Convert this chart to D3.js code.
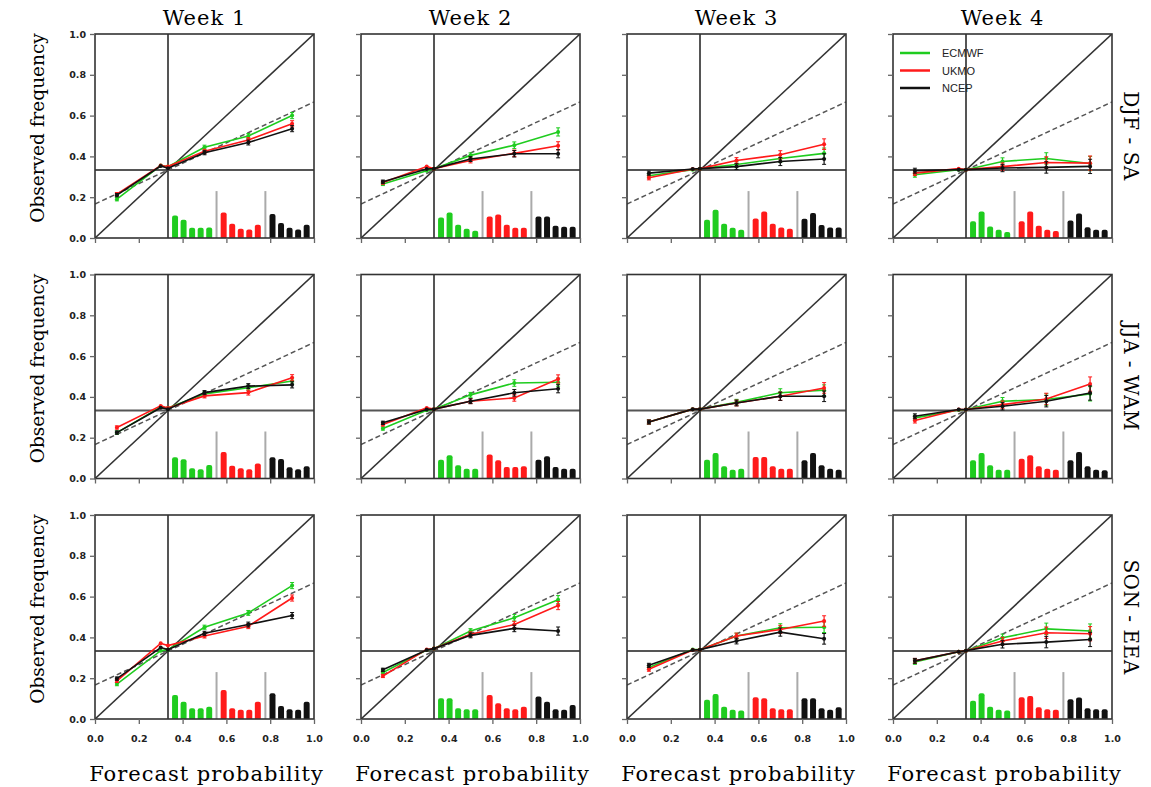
<!DOCTYPE html>
<html><head><meta charset="utf-8">
<script src="https://cdn.jsdelivr.net/npm/d3@7"></script>
<style>body{margin:0;background:#fff}</style>
</head><body>
<script>
// ---------- data ----------
const weeks = ["Week 1","Week 2","Week 3","Week 4"];
const regions = ["DJF - SA","JJA - WAM","SON - EEA"];
const models = ["ECMWF","UKMO","NCEP"];
const modelColors = ["#1fcc1f","#ff1a1a","#111111"];
const binCenters = [0.1, 0.3, 0.333, 0.5, 0.7, 0.9];
const xTicks = [0,0.2,0.4,0.6,0.8,1.0];
const yTicks = [0,0.2,0.4,0.6,0.8,1.0];
const clim = 1/3;
const histSeparators = [0.555, 0.778];
const histSepTop = 0.23;
const histGroupStarts = [0.333, 0.555, 0.778];

// reliability curves [week][bin]
const relDJF_ECMWF = [[0.19,0.355,0.35,0.445,0.50,0.60],[0.265,0.33,0.34,0.405,0.455,0.52],[0.305,0.335,0.34,0.36,0.39,0.415],[0.31,0.335,0.335,0.375,0.39,0.365]];
const relDJF_UKMO  = [[0.215,0.355,0.35,0.425,0.48,0.56],[0.272,0.35,0.34,0.38,0.415,0.452],[0.295,0.338,0.34,0.38,0.408,0.46],[0.318,0.34,0.335,0.35,0.37,0.367]];
const relDJF_NCEP  = [[0.21,0.353,0.342,0.418,0.468,0.536],[0.276,0.338,0.34,0.387,0.413,0.413],[0.318,0.338,0.34,0.35,0.375,0.387],[0.33,0.335,0.335,0.343,0.346,0.351]];
const relJJA_ECMWF = [[0.225,0.35,0.345,0.415,0.445,0.478],[0.245,0.335,0.34,0.41,0.468,0.472],[0.277,0.34,0.34,0.374,0.42,0.433],[0.297,0.336,0.338,0.379,0.387,0.415]];
const relJJA_UKMO  = [[0.25,0.356,0.345,0.405,0.421,0.494],[0.265,0.346,0.34,0.379,0.395,0.488],[0.277,0.34,0.34,0.37,0.403,0.444],[0.284,0.338,0.338,0.362,0.39,0.463]];
const relJJA_NCEP  = [[0.225,0.347,0.34,0.421,0.453,0.459],[0.273,0.338,0.34,0.379,0.42,0.44],[0.277,0.34,0.34,0.37,0.403,0.403],[0.305,0.338,0.338,0.354,0.379,0.419]];
const relSON_ECMWF = [[0.171,0.335,0.34,0.45,0.52,0.654],[0.228,0.338,0.345,0.431,0.496,0.585],[0.252,0.341,0.34,0.407,0.447,0.45],[0.28,0.33,0.335,0.398,0.442,0.431]];
const relSON_UKMO  = [[0.187,0.371,0.36,0.407,0.455,0.593],[0.211,0.341,0.345,0.415,0.463,0.556],[0.244,0.338,0.34,0.407,0.439,0.48],[0.285,0.33,0.335,0.382,0.423,0.418]];
const relSON_NCEP  = [[0.198,0.35,0.34,0.42,0.463,0.507],[0.241,0.338,0.345,0.41,0.444,0.431],[0.263,0.338,0.34,0.382,0.426,0.393],[0.285,0.33,0.335,0.366,0.377,0.39]];

// error-bar half widths [week][bin]
const errHalf = [[0.008,0,0,0.01,0.012,0.015],[0.008,0,0,0.012,0.016,0.02],[0.01,0,0,0.014,0.02,0.026],[0.012,0,0,0.018,0.028,0.035]];

// sharpness histograms [week][5 bins]
const histDJF_ECMWF = [[0.11,0.09,0.05,0.05,0.052],[0.1,0.125,0.065,0.045,0.035],[0.09,0.138,0.07,0.05,0.04],[0.082,0.13,0.056,0.04,0.03]];
const histDJF_UKMO  = [[0.125,0.07,0.045,0.042,0.065],[0.105,0.115,0.065,0.05,0.05],[0.095,0.13,0.07,0.052,0.045],[0.082,0.13,0.06,0.04,0.034]];
const histDJF_NCEP  = [[0.118,0.073,0.05,0.042,0.065],[0.105,0.105,0.06,0.055,0.055],[0.094,0.122,0.064,0.052,0.052],[0.086,0.12,0.053,0.04,0.04]];
const histJJA_ECMWF = [[0.104,0.094,0.05,0.045,0.066],[0.092,0.114,0.065,0.048,0.048],[0.092,0.125,0.06,0.043,0.048],[0.089,0.125,0.065,0.043,0.043]];
const histJJA_UKMO  = [[0.13,0.062,0.05,0.045,0.074],[0.118,0.089,0.056,0.056,0.06],[0.105,0.105,0.06,0.048,0.048],[0.097,0.114,0.06,0.048,0.043]];
const histJJA_NCEP  = [[0.104,0.096,0.055,0.045,0.06],[0.092,0.109,0.056,0.048,0.048],[0.089,0.125,0.065,0.048,0.043],[0.089,0.13,0.06,0.043,0.04]];
const histSON_ECMWF = [[0.118,0.085,0.053,0.053,0.06],[0.102,0.102,0.053,0.048,0.048],[0.094,0.123,0.06,0.045,0.042],[0.09,0.126,0.06,0.045,0.042]];
const histSON_UKMO  = [[0.142,0.053,0.045,0.045,0.085],[0.118,0.077,0.053,0.048,0.06],[0.107,0.102,0.053,0.048,0.048],[0.107,0.113,0.058,0.048,0.045]];
const histSON_NCEP  = [[0.126,0.064,0.048,0.045,0.085],[0.11,0.085,0.048,0.045,0.069],[0.102,0.102,0.053,0.045,0.058],[0.097,0.105,0.053,0.048,0.048]];

const relTable = [[relDJF_ECMWF,relDJF_UKMO,relDJF_NCEP],[relJJA_ECMWF,relJJA_UKMO,relJJA_NCEP],[relSON_ECMWF,relSON_UKMO,relSON_NCEP]];
const histTable = [[histDJF_ECMWF,histDJF_UKMO,histDJF_NCEP],[histJJA_ECMWF,histJJA_UKMO,histJJA_NCEP],[histSON_ECMWF,histSON_UKMO,histSON_NCEP]];

// ---------- layout ----------
const W = 1151, H = 787;
const panelX0 = 95, colStep = 266, panelW = 219;
const panelY0 = 34, rowStep = 240.5, panelH = 204;
const serif = "'DejaVu Serif', serif";

const svg = d3.select("body").append("svg").attr("width", W).attr("height", H)
  .style("font-family", serif);

const x = d3.scaleLinear().domain([0,1]).range([0, panelW]);
const y = d3.scaleLinear().domain([0,1]).range([panelH, 0]);
const binIdx = [0,1,2,3,4];

regions.forEach((reg, r) => {
  weeks.forEach((wk, c) => {
    const g = svg.append("g").attr("transform", `translate(${panelX0 + c*colStep},${panelY0 + r*rowStep})`);
    const clipId = `clip${r}${c}`;
    g.append("clipPath").attr("id", clipId).append("rect").attr("width", panelW).attr("height", panelH);
    const inner = g.append("g").attr("clip-path", `url(#${clipId})`);

    // histogram separators
    inner.selectAll("line.sep").data(histSeparators).join("line")
      .attr("x1", d => x(d)).attr("x2", d => x(d))
      .attr("y1", y(0)).attr("y2", y(histSepTop))
      .attr("stroke", "#aaaaaa").attr("stroke-width", 2);

    // histograms
    models.forEach((m, mi) => {
      const gs = histGroupStarts[mi];
      const band = d3.scaleBand().domain(binIdx).range([x(gs + 0.013), x(gs + 0.208)]).paddingInner(0.3).paddingOuter(0.15);
      inner.selectAll(`rect.h${mi}`).data(histTable[r][mi][c]).join("rect")
        .attr("x", (d,i) => band(i)).attr("width", band.bandwidth())
        .attr("y", d => y(d)).attr("height", d => y(0) - y(d) + 3)
        .attr("rx", 2)
        .attr("fill", modelColors[mi]);
    });

    // climatology lines
    inner.append("line").attr("x1", x(clim)).attr("x2", x(clim)).attr("y1", y(0)).attr("y2", y(1))
      .attr("stroke", "#555").attr("stroke-width", 2);
    inner.append("line").attr("x1", x(0)).attr("x2", x(1)).attr("y1", y(clim)).attr("y2", y(clim))
      .attr("stroke", "#555").attr("stroke-width", 2);
    // diagonal
    inner.append("line").attr("x1", x(0)).attr("x2", x(1)).attr("y1", y(0)).attr("y2", y(1))
      .attr("stroke", "#333").attr("stroke-width", 1.6);
    // no-skill line
    inner.append("line").attr("x1", x(0)).attr("x2", x(1)).attr("y1", y((0+clim)/2)).attr("y2", y((1+clim)/2))
      .attr("stroke", "#555").attr("stroke-width", 1.5).attr("stroke-dasharray", "5,3");

    // reliability curves
    const line = d3.line().x((d,i) => x(binCenters[i])).y(d => y(d));
    models.forEach((m, mi) => {
      const vals = relTable[r][mi][c];
      const col = modelColors[mi];
      inner.append("path").attr("d", line(vals)).attr("fill", "none")
        .attr("stroke", col).attr("stroke-width", 1.6);
      vals.forEach((v, i) => {
        const e = errHalf[c][i];
        if (e > 0) {
          inner.append("line").attr("x1", x(binCenters[i])).attr("x2", x(binCenters[i]))
            .attr("y1", y(v - e)).attr("y2", y(v + e)).attr("stroke", col).attr("stroke-width", 1.2);
          [v - e, v + e].forEach(t => inner.append("line")
            .attr("x1", x(binCenters[i]) - 2).attr("x2", x(binCenters[i]) + 2)
            .attr("y1", y(t)).attr("y2", y(t)).attr("stroke", col).attr("stroke-width", 1));
        }
      });
      inner.selectAll(`circle.m${mi}`).data(vals).join("circle")
        .attr("cx", (d,i) => x(binCenters[i])).attr("cy", d => y(d)).attr("r", 2)
        .attr("fill", col);
    });

    // frame
    g.append("rect").attr("width", panelW).attr("height", panelH).attr("fill", "none")
      .attr("stroke", "#333").attr("stroke-width", 1.6);

    // axes
    const ay = g.append("g").call(d3.axisLeft(y).tickValues(yTicks).tickSize(5).tickPadding(4)
      .tickFormat(c === 0 ? d3.format(".1f") : () => ""));
    const ax = g.append("g").attr("transform", `translate(0,${panelH})`)
      .call(d3.axisBottom(x).tickValues(xTicks).tickSize(5).tickPadding(11)
      .tickFormat(r === regions.length - 1 ? d3.format(".1f") : () => ""));
    [ax, ay].forEach(a => {
      a.select(".domain").remove();
      a.selectAll(".tick line").attr("stroke", "#666").attr("stroke-width", 1.3);
      a.selectAll(".tick text").attr("fill", "#222")
        .style("font-family", "'DejaVu Sans', sans-serif").style("font-weight", "bold").style("font-size", "9.5px");
    });

    // week titles
    if (r === 0) {
      svg.append("text").attr("x", panelX0 + c*colStep + panelW/2).attr("y", 25)
        .attr("text-anchor", "middle").style("font-size", "21px").style("letter-spacing", "1px").text(wk);
    }
    // x labels
    if (r === regions.length - 1) {
      svg.append("text").attr("x", panelX0 + c*colStep + panelW/2 + 2).attr("y", 781)
        .attr("text-anchor", "middle").style("font-size", "21px").style("letter-spacing", "1px").text("Forecast probability");
    }
    // y labels
    if (c === 0) {
      const cy = panelY0 + r*rowStep + panelH/2 - 8;
      svg.append("text").attr("transform", `translate(44,${cy}) rotate(-90)`)
        .attr("text-anchor", "middle").style("font-size", "18.5px").text("Observed frequency");
    }
    // region labels
    if (c === weeks.length - 1) {
      const cy = panelY0 + r*rowStep + panelH/2;
      svg.append("text").attr("transform", `translate(1124,${cy}) rotate(90)`)
        .attr("text-anchor", "middle").style("font-size", "20px").style("letter-spacing", "0.5px").text(reg);
    }
    // legend
    if (r === 0 && c === weeks.length - 1) {
      const lg = g.append("g").attr("transform", "translate(7,19)");
      models.forEach((m, mi) => {
        lg.append("line").attr("x1", 0).attr("x2", 30).attr("y1", mi*17.5).attr("y2", mi*17.5)
          .attr("stroke", modelColors[mi]).attr("stroke-width", 2.5);
        lg.append("text").attr("x", 42).attr("y", mi*17.5 + 4)
          .style("font-family", "'Liberation Sans', Arial, sans-serif").style("font-size", "11px")
          .attr("fill", "#222").text(m);
      });
    }
  });
});
</script>
</body></html>
